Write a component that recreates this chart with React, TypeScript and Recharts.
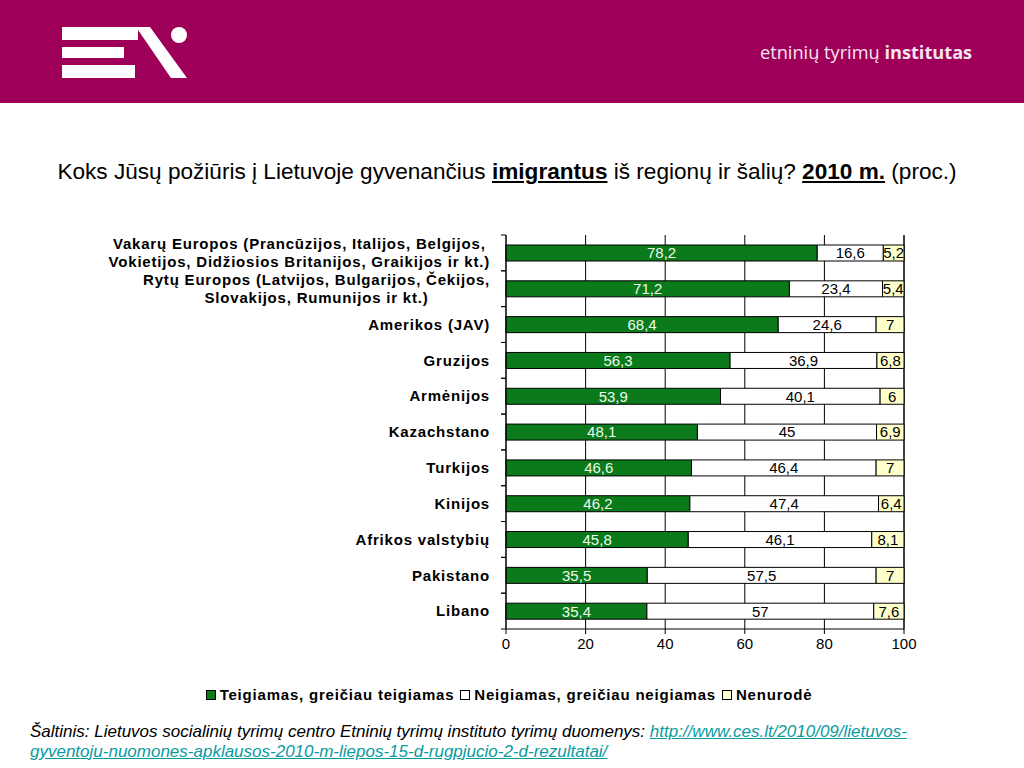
import React from "react";
import { BarChart, Bar, XAxis, YAxis, CartesianGrid, LabelList } from "recharts";

const categories = [
  "Vakarų Europos (Prancūzijos, Italijos, Belgijos,\nVokietijos, Didžiosios Britanijos, Graikijos ir kt.)",
  "Rytų Europos (Latvijos, Bulgarijos, Čekijos,\nSlovakijos, Rumunijos ir kt.)",
  "Amerikos (JAV)",
  "Gruzijos",
  "Armėnijos",
  "Kazachstano",
  "Turkijos",
  "Kinijos",
  "Afrikos valstybių",
  "Pakistano",
  "Libano",
];
const positive = [78.2, 71.2, 68.4, 56.3, 53.9, 48.1, 46.6, 46.2, 45.8, 35.5, 35.4];
const negative = [16.6, 23.4, 24.6, 36.9, 40.1, 45, 46.4, 47.4, 46.1, 57.5, 57];
const unspecified = [5.2, 5.4, 7, 6.8, 6, 6.9, 7, 6.4, 8.1, 7, 7.6];
const seriesNames = [
  "Teigiamas, greičiau teigiamas",
  "Neigiamas, greičiau neigiamas",
  "Nenurodė",
];
const xTicks = [0, 20, 40, 60, 80, 100];

const data = categories.map((name, i) => ({
  name,
  pos: positive[i],
  neg: negative[i],
  na: unspecified[i],
}));

const FONT = '"Liberation Sans", Arial, Helvetica, sans-serif';
const LABEL_SIZE = 15;
const LABEL_LS = 0.8;
const COLORS = ["#0A7A1A", "#FFFFFF", "#FFFFCC"];
const LABEL_COLORS = ["#EEFBEE", "#000000", "#000000"];

let ctx: CanvasRenderingContext2D | null = null;
function textWidth(s: string): number {
  if (!ctx && typeof document !== "undefined") {
    ctx = document.createElement("canvas").getContext("2d");
  }
  if (!ctx) return s.length * 7.5;
  ctx.font = `bold ${LABEL_SIZE}px "Liberation Sans"`;
  (ctx as any).letterSpacing = `${LABEL_LS}px`;
  return ctx.measureText(s).width;
}

const CategoryTick = (props: any) => {
  const { x, y, payload } = props;
  const lines = String(payload.value).split("\n");
  const right = x - 16;
  const half = payload.offset || 0;
  const style = { fontFamily: FONT, fontSize: LABEL_SIZE, fontWeight: 700, letterSpacing: LABEL_LS };
  const ticks = (
    <g>
      <line x1={x - 5} x2={x} y1={y - half} y2={y - half} stroke="#000" />
      <line x1={x - 5} x2={x} y1={y + half} y2={y + half} stroke="#000" />
    </g>
  );
  if (lines.length === 1) {
    return (
      <g>
        {ticks}
        <text x={right} y={y} dy="0.35em" textAnchor="end" fill="#000" style={style}>
          {lines[0]}
        </text>
      </g>
    );
  }
  const maxW = Math.max(...lines.map(textWidth));
  const cx = right - maxW / 2;
  const n = lines.length;
  return (
    <g>
      {ticks}
      <text textAnchor="middle" fill="#000" style={style}>
        {lines.map((l, i) => (
          <tspan key={i} x={cx} y={y + (i - (n - 1) / 2) * 18.5} dy="0.35em">
            {l}
          </tspan>
        ))}
      </text>
    </g>
  );
};

const fmt = (v: any) => String(v).replace(".", ",");

const Logo = () => (
  <svg width={200} height={103} style={{ position: "absolute", left: 0, top: 0 }}>
    <rect x={62} y={27} width={76} height={13} fill="#fff" />
    <rect x={62} y={47} width={62} height={11} fill="#fff" />
    <rect x={62} y={65} width={73} height={13} fill="#fff" />
    <polygon points="136,27 150,27 187,78 171,78" fill="#fff" />
    <circle cx={179} cy={35} r={8} fill="#fff" />
  </svg>
);

export default function App() {
  const keys = ["pos", "neg", "na"];
  return (
    <div
      style={{
        position: "absolute",
        left: 0,
        top: 0,
        width: 1024,
        height: 768,
        background: "#fff",
        overflow: "hidden",
        fontFamily: FONT,
      }}
    >
      <div style={{ position: "absolute", left: 0, top: 0, width: 1024, height: 103, background: "#9E0059" }}>
        <Logo />
        <div
          style={{
            position: "absolute",
            left: 760,
            top: 41,
            fontFamily: '"Open Sans", sans-serif',
            fontSize: 18.2,
            color: "#F6E4EE",
            whiteSpace: "nowrap",
            lineHeight: "22px",
          }}
        >
          etninių tyrimų <b>institutas</b>
        </div>
      </div>

      <div
        style={{
          position: "absolute",
          left: 0,
          top: 158,
          width: 1014,
          textAlign: "center",
          fontSize: 22.6,
          lineHeight: "28px",
          color: "#000",
          whiteSpace: "nowrap",
        }}
      >
        Koks Jūsų požiūris į Lietuvoje gyvenančius <b><u>imigrantus</u></b> iš regionų ir šalių?{" "}
        <b><u>2010 m.</u></b> (proc.)
      </div>

      <div style={{ position: "absolute", left: 0, top: 0 }}>
        <BarChart
          width={1024}
          height={680}
          data={data}
          layout="vertical"
          margin={{ top: 235, right: 120, bottom: 21, left: 0 }}
          barSize={16}
        >
          <CartesianGrid vertical horizontal={false} stroke="#000" strokeOpacity={1} />
          <XAxis
            type="number"
            domain={[0, 100]}
            ticks={xTicks}
            interval={0}
            height={30}
            tickSize={5}
            tickMargin={4}
            axisLine={{ stroke: "#000" }}
            tickLine={{ stroke: "#000" }}
            tick={{ fill: "#000", fontSize: 15, fontFamily: FONT }}
          />
          <YAxis
            type="category"
            dataKey="name"
            width={506}
            interval={0}
            tickSize={0}
            tickMargin={0}
            tickLine={false}
            axisLine={{ stroke: "#000" }}
            tick={<CategoryTick />}
          />
          {keys.map((k, i) => (
            <Bar
              key={k}
              dataKey={k}
              name={seriesNames[i]}
              stackId="s"
              fill={COLORS[i]}
              stroke="#000"
              strokeWidth={1}
              isAnimationActive={false}
            >
              <LabelList
                dataKey={k}
                position="center"
                fill={LABEL_COLORS[i]}
                formatter={fmt}
                style={{ fontFamily: FONT, fontSize: 15 }}
              />
            </Bar>
          ))}
        </BarChart>
      </div>

      <div
        style={{
          position: "absolute",
          left: 0,
          top: 686,
          width: 1024,
          display: "flex",
          justifyContent: "center",
          alignItems: "center",
          fontSize: 15,
          fontWeight: 700,
          letterSpacing: 0.8,
          color: "#000",
          whiteSpace: "nowrap",
        }}
      >
        {seriesNames.map((n, i) => (
          <div key={n} style={{ display: "flex", alignItems: "center", marginRight: 6 }}>
            <span
              style={{
                display: "inline-block",
                width: 8,
                height: 8,
                border: "1px solid #000",
                background: COLORS[i],
                marginRight: 4,
              }}
            />
            {n}
          </div>
        ))}
      </div>

      <div
        style={{
          position: "absolute",
          left: 30,
          top: 722,
          fontSize: 17,
          fontStyle: "italic",
          lineHeight: "19.5px",
          color: "#000",
          whiteSpace: "nowrap",
        }}
      >
        Šaltinis: Lietuvos socialinių tyrimų centro Etninių tyrimų instituto tyrimų duomenys:{" "}
        <span style={{ color: "#0A9AA0", textDecoration: "underline" }}>http://www.ces.lt/2010/09/lietuvos-</span>
        <br />
        <span style={{ color: "#0A9AA0", textDecoration: "underline" }}>
          gyventoju-nuomones-apklausos-2010-m-liepos-15-d-rugpjucio-2-d-rezultatai/
        </span>
      </div>
    </div>
  );
}
